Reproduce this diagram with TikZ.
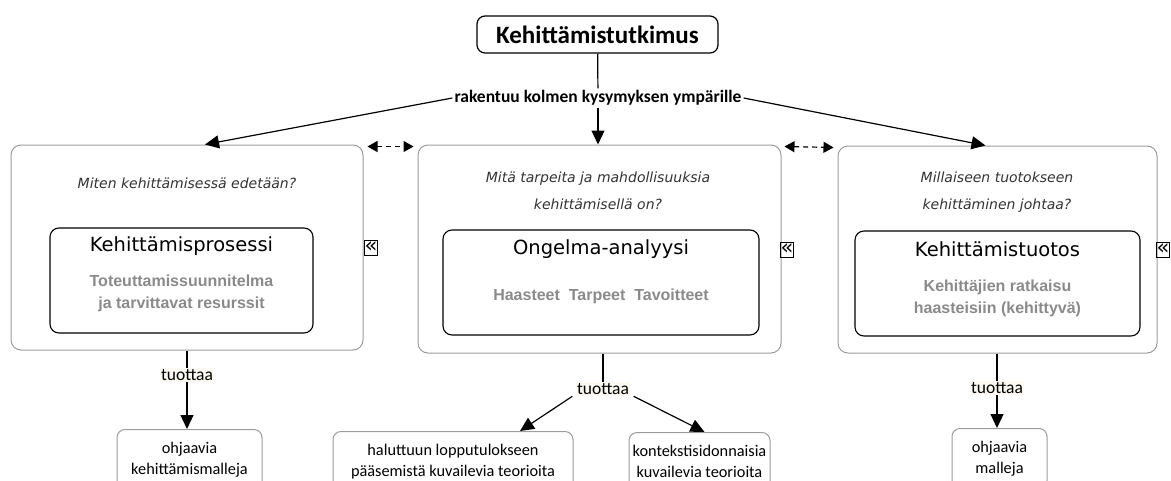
\documentclass[tikz,border=0pt]{standalone}
\usepackage{fontspec}
\setmainfont{DejaVu Sans}
\newfontfamily\calibri{Carlito}
\newfontfamily\arialf{Liberation Sans}
\usetikzlibrary{arrows.meta}
\definecolor{boxgray}{HTML}{9C9C9C}
\definecolor{txtgray}{HTML}{8A8A8A}
\definecolor{qgray}{HTML}{333333}
\definecolor{labelbg}{HTML}{FBF9F1}

\tikzset{
  topbox/.style={draw, line width=1.2pt, rounded corners=8pt, minimum width=241, minimum height=37,
    font=\calibri\fontsize{25}{28}\selectfont\bfseries},
  mainlabel/.style={fill=white, inner sep=2pt, font=\calibri\fontsize{17.5}{20}\selectfont\bfseries},
  outerbox/.style={draw=boxgray, line width=1pt, rounded corners=10pt},
  innerbox/.style={draw, line width=1.1pt, rounded corners=9pt},
  question/.style={align=center, text=qgray, font=\fontsize{14}{27}\selectfont\itshape},
  boxtitle/.style={font=\fontsize{19.5}{22}\selectfont},
  graytext/.style={align=center, text=txtgray, font=\arialf\fontsize{16}{22}\selectfont\bfseries},
  markbox/.style={draw, line width=0.9pt, inner sep=0pt, minimum width=12, minimum height=15,
    font=\fontsize{21}{21}\selectfont},
  prodlabel/.style={fill=labelbg, inner sep=1.5pt, font=\calibri\fontsize{17.5}{20}\selectfont},
  outbox/.style={draw=boxgray, line width=1pt, rounded corners=8pt, align=center, anchor=north,
    font=\calibri\fontsize{16.3}{21}\selectfont},
  arr/.style={line width=1.2pt, -{Triangle[length=14pt,width=13pt]}},
  dasharr/.style={line width=1.2pt, dash pattern=on 5pt off 4pt,
    {Triangle[length=10pt,width=11pt]}-{Triangle[length=10pt,width=11pt]}}
}

\begin{document}
\begin{tikzpicture}[x=1pt,y=-1pt]
\useasboundingbox (0,0) rectangle (1171,480);
\clip (0,0) rectangle (1171,480);

% top of the map
\node[topbox] (top) at (597.5,34.5) {Kehittämistutkimus};
\node[mainlabel] (rak) at (598,98) {rakentuu kolmen kysymyksen ympärille};

% three questions
\node[outerbox, minimum width=352, minimum height=205] (proc) at (187,247.5) {};
\node[outerbox, minimum width=363, minimum height=208] (anal) at (599.5,249) {};
\node[outerbox, minimum width=319, minimum height=207] (tuot) at (997.5,249.5) {};

\node[question] (q1) at (187,183) {Miten kehittämisessä edetään?};
\node[question] (q2) at (598,191) {Mitä tarpeita ja mahdollisuuksia\\kehittämisellä on?};
\node[question] (q3) at (997,192) {Millaiseen tuotokseen\\kehittäminen johtaa?};

\node[innerbox, minimum width=263, minimum height=105] (in1) at (181.5,280.5) {};
\node[innerbox, minimum width=316, minimum height=105] (in2) at (601,282.5) {};
\node[innerbox, minimum width=285, minimum height=105] (in3) at (997.5,283.5) {};

\node[boxtitle] (h1) at (181.5,246) {Kehittämisprosessi};
\node[boxtitle] (h2) at (601,249) {Ongelma-analyysi};
\node[boxtitle] (h3) at (997.5,249) {Kehittämistuotos};

\node[graytext] (g1) at (181.5,293) {Toteuttamissuunnitelma\\ja tarvittavat resurssit};
\node[graytext] (g2) at (601,296) {Haasteet\ \ Tarpeet\ \ Tavoitteet};
\node[graytext] (g3) at (997.5,298) {Kehittäjien ratkaisu\\haasteisiin (kehittyvä)};

\node[markbox] (m1) at (371,247.5) {«};
\node[markbox] (m2) at (787,249.5) {«};
\node[markbox] (m3) at (1163,249.5) {«};

\draw[line width=1.2pt] (top) -- (rak);
\draw[arr] (rak.south) -- (rak.south |- anal.north);
\draw[arr] (rak.west) -- ([xshift=18]proc.north);
\draw[arr] (rak.east) -- ([xshift=-12]tuot.north);
\draw[dasharr] ([xshift=4,yshift=-2]proc.north east) -- ([xshift=-4,yshift=-2]anal.north west);
\draw[dasharr] ([xshift=3,yshift=-2]anal.north east) -- ([xshift=-4,yshift=-2]tuot.north west);

% what each one produces
\node[prodlabel] (t1) at (187,375) {tuottaa};
\node[prodlabel] (t2) at (603,389) {tuottaa};
\node[prodlabel] (t3) at (997,388) {tuottaa};

\node[outbox, minimum width=145, minimum height=60] (o1) at (189.5,429) {ohjaavia\\kehittämismalleja};
\node[outbox, minimum width=240, minimum height=60] (o2) at (453,431) {haluttuun lopputulokseen\\pääsemistä kuvailevia teorioita};
\node[outbox, minimum width=141, minimum height=58] (o3) at (699.5,432) {kontekstisidonnaisia\\kuvailevia teorioita};
\node[outbox, minimum width=95, minimum height=60] (o4) at (999.5,428) {ohjaavia\\malleja};

\draw[line width=1.2pt] (t1 |- proc.south) -- (t1);
\draw[arr] (t1) -- (t1 |- o1.north);
\draw[line width=1.2pt] (t2 |- anal.south) -- (t2);
\draw[arr] ([xshift=-3]t2.south west) -- ([xshift=67]o2.north);
\draw[arr] ([xshift=3]t2.south east) -- ([xshift=5]o3.north);
\draw[line width=1.2pt] (t3 |- tuot.south) -- (t3);
\draw[arr] (t3) -- (t3 |- o4.north);
\end{tikzpicture}
\end{document}
